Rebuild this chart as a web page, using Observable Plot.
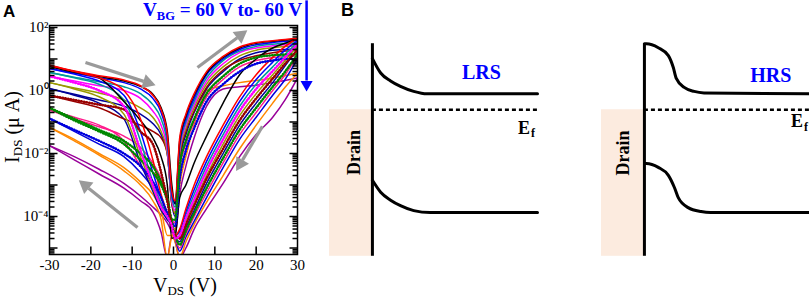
<!DOCTYPE html>
<html><head><meta charset="utf-8">
<script src="https://cdn.jsdelivr.net/npm/d3@7"></script>
<script src="https://cdn.jsdelivr.net/npm/@observablehq/plot@0.6"></script>
<style>
body{margin:0;background:#fff;}
#wrap{position:relative;width:809px;height:298px;overflow:hidden;font-family:"Liberation Serif","Times New Roman",serif;}
#panelA{position:absolute;left:0;top:0;width:320px;height:298px;}
#panelB{position:absolute;left:320px;top:0;width:489px;height:298px;}
.lbl{position:absolute;white-space:nowrap;}
</style></head>
<body>
<div id="wrap">
  <div id="panelA"></div>
  <div id="panelB"></div>
  <div class="lbl" style="left:3px;top:3px;font:bold 17px/17px 'Liberation Sans',Arial,sans-serif;">A</div>
  <div class="lbl" style="left:341px;top:1px;font:bold 18px/18px 'Liberation Sans',Arial,sans-serif;">B</div>
  <div class="lbl" style="left:143px;top:0px;font:bold 19.2px/20px 'Liberation Serif',serif;color:#0000ff;">V<span style="font-size:12.5px;position:relative;top:4px;">BG</span> = 60 V to- 60 V</div>
  <div class="lbl" style="left:153px;top:275px;font:20px/20px 'Liberation Serif',serif;">V<span style="font-size:13px;position:relative;top:3px;">DS</span> (V)</div>
  <div class="lbl" style="left:13px;top:127px;font:20px/20px 'Liberation Serif',serif;transform:translate(-50%,-50%) rotate(-90deg);">I<span style="font-size:13px;position:relative;top:3px;">DS</span> (μ A)</div>
</div>
<script>
// ---------- Panel A data (log10 of I_DS in µA) ----------
const vGrid = [-30,-24,-18,-12,-8,-5,-3,-1.5,-0.4,0.4,1.5,3,5,8,12,16,20,24,27,30];
const vbgValues = [60,50,40,30,20,10,0,-10,-20,-30,-40,-50,-60];
const curveColors = ["#000000","#ff0000","#0000ff","#009999","#ff00ff","#999900","#990000","#000099","#008800","#ff1a8c","#0000dd","#ff8800","#990099"];

// upper sweep (-30 -> 0 high branch, 0 -> 30 rising branch)
const logIupper = [
  [0.76,0.58,0.44,0.30,0.13,-0.12,-0.55,-1.3,-3.0,-3.6,-1.6,-0.8,-0.15,0.55,1.05,1.35,1.5,1.56,1.6,1.63],
  [0.80,0.62,0.47,0.33,0.15,-0.15,-0.6,-1.4,-3.2,-3.5,-1.5,-0.75,-0.1,0.6,1.08,1.38,1.52,1.58,1.62,1.66],
  [0.70,0.55,0.40,0.25,0.05,-0.25,-0.7,-1.5,-3.3,-3.6,-1.7,-0.9,-0.25,0.5,1.0,1.3,1.45,1.52,1.56,1.58],
  [0.57,0.42,0.28,0.12,-0.1,-0.45,-0.9,-1.7,-3.4,-3.7,-1.8,-1.0,-0.35,0.4,0.95,1.25,1.4,1.47,1.5,1.52],
  [0.45,0.3,0.15,0.0,-0.25,-0.65,-1.1,-1.9,-3.5,-3.8,-1.9,-1.1,-0.45,0.3,0.85,1.2,1.35,1.42,1.45,1.47],
  [0.25,0.08,-0.08,-0.3,-0.55,-0.85,-1.3,-2.0,-3.5,-3.9,-2.0,-1.2,-0.55,0.2,0.75,1.1,1.28,1.36,1.4,1.42],
  [-0.16,-0.35,-0.55,-0.9,-1.1,-1.3,-1.5,-2.0,-3.6,-3.9,-2.1,-1.3,-0.65,0.1,0.65,0.95,1.1,1.2,1.25,1.28],
  [0.06,-0.12,-0.3,-0.5,-0.75,-1.05,-1.4,-2.0,-3.6,-4.0,-2.2,-1.4,-0.7,0.05,0.6,1.0,1.2,1.28,1.3,1.32],
  [-0.55,-0.95,-1.3,-1.7,-2.2,-2.6,-3.0,-3.5,-4.1,-4.1,-2.4,-1.6,-0.9,-0.1,0.45,0.85,1.05,1.12,1.14,1.15],
  [-0.62,-0.9,-1.15,-1.45,-1.8,-2.3,-2.8,-3.4,-4.1,-4.2,-2.5,-1.7,-1.0,-0.2,0.35,0.75,0.95,1.05,1.08,1.1],
  [-0.89,-1.25,-1.6,-2.0,-2.4,-2.9,-3.4,-3.9,-4.2,-4.3,-2.8,-1.9,-1.2,-0.35,0.2,0.6,0.85,0.95,1.0,1.0],
  [-1.17,-1.6,-2.05,-2.55,-3.0,-3.5,-4.1,-5.3,-4.6,-4.4,-3.0,-2.1,-1.1,0.0,0.15,0.25,0.32,0.4,0.47,0.55],
  [-1.75,-2.2,-2.65,-3.1,-3.5,-3.85,-4.5,-5.3,-4.6,-4.6,-3.3,-2.4,-1.5,-0.5,0.05,0.12,0.17,0.25,0.32,0.4]
];
// lower sweep (30 -> 0 falling branch, 0 -> -30 return branch)
const logIlower = [
  [0.76,0.6,0.4,-0.35,-0.95,-1.5,-2.1,-3.0,-4.7,-4.6,-3.4,-3.0,-2.3,-1.45,-0.4,0.5,1.0,1.35,1.5,1.63],
  [0.80,0.6,0.4,0.0,-0.9,-2.2,-3.3,-3.9,-4.3,-4.6,-4.4,-3.75,-3.0,-2.1,-1.1,-0.2,0.5,1.05,1.4,1.66],
  [0.70,0.52,0.3,-0.15,-1.3,-2.6,-3.4,-3.9,-4.3,-4.6,-4.45,-3.85,-3.15,-2.25,-1.25,-0.35,0.35,0.9,1.28,1.58],
  [0.57,0.4,0.2,-0.3,-1.6,-2.9,-3.6,-4.0,-4.3,-4.6,-4.5,-3.95,-3.3,-2.4,-1.4,-0.5,0.2,0.75,1.15,1.52],
  [0.45,0.25,0.0,-0.5,-1.9,-3.0,-3.7,-4.0,-4.3,-4.7,-4.6,-4.05,-3.45,-2.55,-1.55,-0.65,0.05,0.62,1.05,1.47],
  [0.25,0.05,-0.2,-0.75,-2.1,-3.1,-3.7,-4.0,-4.3,-4.6,-4.65,-4.15,-3.55,-2.7,-1.7,-0.8,-0.1,0.5,0.95,1.42],
  [-0.16,-0.3,-0.45,-0.6,-1.3,-1.7,-2.6,-3.5,-4.3,-4.6,-4.7,-4.25,-3.65,-2.8,-1.85,-0.95,-0.25,0.38,0.85,1.28],
  [0.06,-0.15,-0.4,-0.9,-2.3,-3.2,-3.8,-4.1,-4.3,-4.7,-4.8,-4.35,-3.8,-2.95,-2.0,-1.1,-0.4,0.25,0.78,1.32],
  [-0.55,-0.9,-1.25,-1.6,-2.0,-2.4,-2.9,-3.4,-4.2,-4.6,-4.9,-4.45,-3.9,-3.1,-2.15,-1.25,-0.55,0.12,0.6,1.15],
  [-0.62,-0.85,-1.1,-1.6,-2.4,-3.0,-3.6,-4.0,-4.3,-4.7,-5.0,-4.55,-4.0,-3.25,-2.3,-1.4,-0.7,0.0,0.5,1.1],
  [-0.89,-1.3,-1.7,-2.1,-2.6,-3.1,-3.6,-4.0,-4.3,-4.7,-5.1,-4.65,-4.15,-3.4,-2.45,-1.55,-0.85,-0.15,0.35,1.0],
  [-1.17,-1.55,-2.0,-2.45,-2.9,-3.3,-3.8,-4.6,-4.6,-4.8,-5.3,-4.8,-4.25,-3.55,-2.7,-1.85,-1.1,-0.4,0.1,0.55],
  [-1.75,-2.1,-2.5,-2.95,-3.35,-3.7,-3.95,-4.2,-4.5,-4.8,-5.3,-5.0,-4.4,-3.75,-2.95,-2.1,-1.4,-0.85,-0.3,0.4]
];
const dottedBranches = new Set(["0lower","-20lower","-20upper","-40upper","20lower"]);

const xTicks = [-30,-20,-10,0,10,20,30];
const yLabelTicks = [1e-4,1e-2,1,1e2];
const yTickLabels = ["10⁻⁴","10⁻²","10⁰","10²"];

// sweep-direction arrows (V, log10 I)
const sweepArrows = [
  {v1:-21.3, l1:0.89, v2:-6.3, l2:0.25},
  {v1:5.8, l1:0.73, v2:16.2, l2:1.75},
  {v1:21.5, l1:-1.14, v2:16.2, l2:-2.32},
  {v1:-8.7, l1:-4.35, v2:-21.3, l2:-3.02}
];
const gateArrow = [{v1:32.2, l1:2.86, v2:32.2, l2:0.0}];

// ---------- geometry of panel A ----------
const W = 320, H = 298, mL = 49, mR = 23, mT = 25, mB = 44;
const xDom = [-30, 30];
const logDom = [-5.206, 2.063];
const pxPerV = (W - mL - mR) / (xDom[1] - xDom[0]);
const pxPerDecade = (H - mT - mB) / (logDom[1] - logDom[0]);

// ---------- build rows ----------
const drawOrder = [12,11,10,9,8,7,6,5,4,3,2,0,1];
const rows = [];
drawOrder.forEach(i => {
  [["upper", logIupper[i]], ["lower", logIlower[i]]].forEach(([b, arr]) => {
    const key = vbgValues[i] + b;
    vGrid.forEach((v, j) => rows.push({V: v, I: Math.pow(10, arr[j]), key, color: curveColors[i], dotted: dottedBranches.has(key)}));
  });
});
const yMin = Math.pow(10, logDom[0]);
// inward tick marks: decades long, 2..9 short, mirrored on both sides
const tickRows = [];
d3.range(-6, 3).forEach(k => d3.range(1, 10).forEach(m => {
  const t = m * Math.pow(10, k);
  if (t > yMin && t < Math.pow(10, logDom[1])) {
    const len = (m === 1 ? 8 : 5) / pxPerV;
    tickRows.push({y: t, a: xDom[0], b: xDom[0] + len});
    tickRows.push({y: t, a: xDom[1] - len, b: xDom[1]});
  }
}));
const xTickRows = xTicks.slice(1, -1).map(x => ({x, a: yMin, b: yMin * Math.pow(10, 8 / pxPerDecade)}));
const labelMap = new Map(yLabelTicks.map((t, i) => [t, yTickLabels[i]]));
const headAngle = d => Math.atan2((d.v2 - d.v1) * pxPerV, (d.l2 - d.l1) * pxPerDecade) * 180 / Math.PI;
const shaft = (d, k) => {
  const dxp = (d.v2 - d.v1) * pxPerV, dyp = (d.l2 - d.l1) * pxPerDecade, L = Math.hypot(dxp, dyp);
  return k === "x" ? d.v2 - (dxp / L) * 4 / pxPerV : Math.pow(10, d.l2 - (dyp / L) * 4 / pxPerDecade);
};

const chartA = Plot.plot({
  width: W, height: H,
  marginLeft: mL, marginRight: mR, marginTop: mT, marginBottom: mB,
  x: {domain: xDom},
  y: {type: "log", domain: logDom.map(l => Math.pow(10, l))},
  color: {type: "identity"},
  style: {fontFamily: "'Liberation Serif', serif", fontSize: "15px", color: "black", background: "transparent"},
  marks: [
    Plot.line(rows, {x: "V", y: "I", z: "key", stroke: "color", strokeWidth: 1.5, curve: "monotone-x", clip: true}),
    Plot.line(rows.filter(d => d.dotted), {x: "V", y: "I", z: "key", stroke: "color", strokeWidth: 2.6, strokeDasharray: "0.1 2.6", strokeLinecap: "round", curve: "monotone-x", clip: true}),
    Plot.link(sweepArrows, {x1: "v1", x2: d => shaft(d, "x"), y1: d => Math.pow(10, d.l1), y2: d => shaft(d, "y"), stroke: "#9a9a9a", strokeWidth: 3.2}),
    Plot.dot(sweepArrows, {x: "v2", y: d => Math.pow(10, d.l2), symbol: "triangle", r: 5.5, rotate: headAngle, fill: "#9a9a9a", stroke: "none"}),
    Plot.link(gateArrow, {x1: "v1", x2: "v2", y1: d => Math.pow(10, d.l1), y2: d => Math.pow(10, d.l2 + 10 / pxPerDecade), stroke: "#0000ff", strokeWidth: 2.5}),
    Plot.dot(gateArrow, {x: "v2", y: d => Math.pow(10, d.l2 + 6 / pxPerDecade), symbol: "triangle", r: 4.5, rotate: 180, fill: "#0000ff", stroke: "none"}),
    Plot.link(tickRows, {x1: "a", x2: "b", y1: "y", y2: "y", stroke: "#000000", strokeWidth: 1.5}),
    Plot.link(xTickRows, {x1: "x", x2: "x", y1: "a", y2: "b", stroke: "#000000", strokeWidth: 1.5}),
    Plot.frame({stroke: "black", strokeWidth: 1.5}),
    Plot.axisX({ticks: xTicks, tickSize: 0, tickPadding: 5, tickFormat: d => String(d), fontSize: 15, label: null}),
    Plot.axisY({ticks: yLabelTicks, tickSize: 0, tickPadding: 1, tickFormat: d => labelMap.get(d), fontSize: 15, label: null})
  ]
});
document.getElementById("panelA").append(chartA);

// ---------- Panel B: band diagrams (distance units, energy in eV relative to E_f) ----------
const bandStates = ["LRS", "HRS"];
const drainDepth = 0.26;
const fermiLevel = 0;
const bandBottom = -2.95;
const bandTop = 1.33;
const conductionLRS = [[0,1.03],[0.05,0.74],[0.11,0.58],[0.17,0.47],[0.25,0.37],[0.33,0.32],[1,0.32]];
const valenceLRS = [[0,-1.42],[0.05,-1.66],[0.11,-1.82],[0.17,-1.93],[0.25,-2.03],[0.35,-2.07],[1,-2.07]];
const conductionHRS = [[0,1.33],[0.012,1.33],[0.084,1.25],[0.145,1.09],[0.175,0.85],[0.193,0.63],[0.241,0.45],[0.301,0.37],[0.361,0.34],[1,0.32]];
const valenceHRS = [[0,-1.08],[0.012,-1.08],[0.084,-1.16],[0.145,-1.32],[0.181,-1.56],[0.205,-1.77],[0.265,-1.97],[0.343,-2.05],[0.4,-2.07],[1,-2.07]];
const stateLabels = [{state: "LRS", x: 0.66, E: 0.75}, {state: "HRS", x: 0.765, E: 0.69}];
const fermiLabels = [{state: "LRS", x: 0.918, E: -0.38}, {state: "HRS", x: 0.925, E: -0.24}];
const drainLabels = [{state: "LRS", x: -0.11, E: -0.86}, {state: "HRS", x: -0.13, E: -0.87}];

const bandRows = [];
[["LRS", "c", conductionLRS], ["LRS", "v", valenceLRS], ["HRS", "c", conductionHRS], ["HRS", "v", valenceHRS]]
  .forEach(([s, b, pts]) => pts.forEach(([x, E]) => bandRows.push({state: s, band: s + b, x, E})));
const drainRows = bandStates.map(s => ({state: s, x1: -drainDepth, x2: 0, y1: bandBottom, y2: fermiLevel}));
const interfaceRows = bandStates.map(s => ({state: s, x: 0, lo: bandBottom, hi: bandTop}));
const fermiRows = bandStates.map(s => ({state: s, E: fermiLevel, x1: 0, x2: 1}));

const serifB = "'Liberation Serif', serif";
const chartB = Plot.plot({
  width: 489, height: 298,
  marginLeft: 9, marginRight: 0, marginTop: 0, marginBottom: 0,
  fx: {domain: bandStates, paddingInner: 0.2353, paddingOuter: 0, axis: null, label: null},
  x: {domain: [-drainDepth, 1], axis: null},
  y: {domain: [-3.8, 2.2], axis: null},
  style: {background: "transparent"},
  marks: [
    Plot.rect(drainRows, {fx: "state", x1: "x1", x2: "x2", y1: "y1", y2: "y2", fill: "#fcebdf"}),
    Plot.ruleY(fermiRows, {fx: "state", y: "E", x1: "x1", x2: "x2", stroke: "black", strokeWidth: 2.6, strokeDasharray: "4 3"}),
    Plot.line(bandRows, {fx: "state", x: "x", y: "E", z: "band", stroke: "black", strokeWidth: 3, curve: "monotone-x"}),
    Plot.ruleX(interfaceRows, {fx: "state", x: "x", y1: "lo", y2: "hi", stroke: "black", strokeWidth: 3}),
    Plot.text(stateLabels, {fx: "state", x: "x", y: "E", text: "state", fill: "#0000ff", fontWeight: "bold", fontSize: 20, fontFamily: serifB}),
    Plot.text(fermiLabels, {fx: "state", x: "x", y: "E", text: () => "E", fill: "black", fontWeight: "bold", fontSize: 18, fontFamily: serifB}),
    Plot.text(fermiLabels, {fx: "state", x: "x", y: "E", text: () => "f", dx: 9, dy: 5, fill: "black", fontWeight: "bold", fontSize: 12, fontFamily: serifB}),
    Plot.text(drainLabels, {fx: "state", x: "x", y: "E", text: () => "Drain", rotate: -90, fill: "black", fontWeight: "bold", fontSize: 18, fontFamily: serifB})
  ]
});
document.getElementById("panelB").append(chartB);
</script>
</body></html>
